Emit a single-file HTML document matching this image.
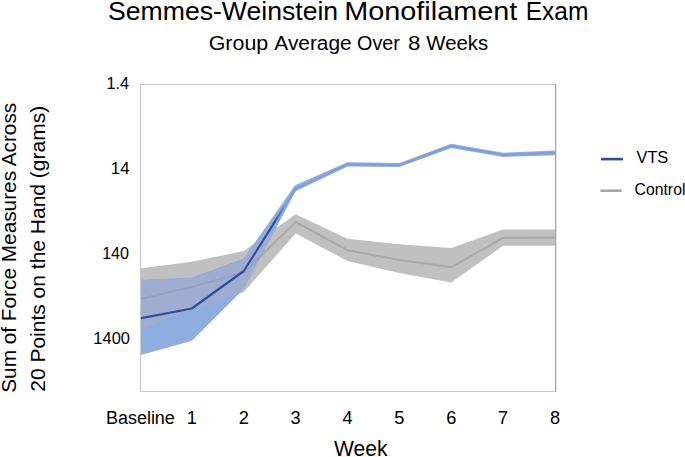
<!DOCTYPE html>
<html><head><meta charset="utf-8"><style>
html,body{margin:0;padding:0;background:#fff;}
body{width:685px;height:457px;overflow:hidden;}
svg{display:block;}
text{font-family:"Liberation Sans", sans-serif;fill:#000;}
</style></head><body>
<svg width="685" height="457" viewBox="0 0 685 457">
<defs>
<linearGradient id="vgrad" gradientUnits="userSpaceOnUse" x1="274" y1="0" x2="286" y2="0"><stop offset="0" stop-color="#2c4f9a"/><stop offset="1" stop-color="#7f9fd8"/></linearGradient>
<clipPath id="plotclip"><rect x="140.5" y="84" width="415" height="308"/></clipPath>
<clipPath id="vclip"><polygon points="140.00,280.30 191.88,278.00 243.75,259.00 295.62,185.00 347.50,162.30 399.38,163.00 451.25,143.80 503.12,152.70 555.00,150.50 555.00,155.30 503.12,157.00 451.25,147.90 399.38,167.00 347.50,166.60 295.62,191.20 243.75,289.00 191.88,340.80 140.00,355.30"/></clipPath>
</defs>
<rect x="0" y="0" width="685" height="457" fill="#fff"/>
<!-- plot frame -->
<line x1="140" y1="84.5" x2="555" y2="84.5" stroke="#c8c8c8" stroke-width="1"/>
<line x1="140" y1="391.5" x2="555" y2="391.5" stroke="#c8c8c8" stroke-width="1"/>
<g clip-path="url(#plotclip)">
<!-- control band -->
<polygon points="140.00,268.50 191.88,261.70 243.75,251.00 295.62,214.20 347.50,238.80 399.38,244.20 451.25,248.00 503.12,229.60 555.00,229.60 555.00,245.80 503.12,245.70 451.25,282.50 399.38,273.00 347.50,261.00 295.62,233.50 243.75,292.00 191.88,310.00 140.00,329.80" fill="#c0c0c0"/>
<polyline points="140.00,299.00 191.88,287.00 243.75,272.50 295.62,222.00 347.50,250.20 399.38,260.00 451.25,267.10 503.12,237.80 555.00,237.40" fill="none" stroke="#a9a9a9" stroke-width="2"/>
<!-- vts band -->
<polygon points="140.00,280.30 191.88,278.00 243.75,259.00 295.62,185.00 347.50,162.30 399.38,163.00 451.25,143.80 503.12,152.70 555.00,150.50 555.00,155.30 503.12,157.00 451.25,147.90 399.38,167.00 347.50,166.60 295.62,191.20 243.75,289.00 191.88,340.80 140.00,355.30" fill="#8fadde"/>
<g clip-path="url(#vclip)">
<polygon points="140.00,268.50 191.88,261.70 243.75,251.00 295.62,214.20 347.50,238.80 399.38,244.20 451.25,248.00 503.12,229.60 555.00,229.60 555.00,245.80 503.12,245.70 451.25,282.50 399.38,273.00 347.50,261.00 295.62,233.50 243.75,292.00 191.88,310.00 140.00,329.80" fill="#9faed0"/>
<polyline points="140.00,299.00 191.88,287.00 243.75,272.50 295.62,222.00 347.50,250.20 399.38,260.00 451.25,267.10 503.12,237.80 555.00,237.40" fill="none" stroke="#979fc5" stroke-width="2"/>
</g>
<polyline points="140.00,280.30 191.88,278.00 243.75,259.00 295.62,185.00" fill="none" stroke="#8fadde" stroke-width="0.9"/>
<polyline points="140.00,318.30 191.88,308.50 243.75,271.00 295.62,188.80 347.50,164.45 399.38,165.00 451.25,145.85 503.12,154.85 555.00,152.90" fill="none" stroke="url(#vgrad)" stroke-width="2.2" stroke-linejoin="round"/>
</g>
<line x1="555.5" y1="84" x2="555.5" y2="392" stroke="#aaaaaa" stroke-width="1"/>
<line x1="140.5" y1="84" x2="140.5" y2="392" stroke="#c8c8c8" stroke-width="1"/>
<line x1="556.5" y1="84" x2="556.5" y2="392" stroke="#e2e2e2" stroke-width="1"/>
<!-- legend -->
<line x1="601" y1="159.1" x2="623" y2="159.1" stroke="#2c4f9a" stroke-width="2.6"/>
<line x1="600.5" y1="190.7" x2="621.7" y2="190.7" stroke="#a6a6a6" stroke-width="2.6"/>
<text x="108.07" y="19.7" font-size="26" text-anchor="start" textLength="230.1" lengthAdjust="spacingAndGlyphs" >Semmes-Weinstein</text><text x="344.25" y="19.7" font-size="26" text-anchor="start" textLength="173.02" lengthAdjust="spacingAndGlyphs" >Monofilament</text><text x="525.79" y="19.7" font-size="26" text-anchor="start" textLength="62.63" lengthAdjust="spacingAndGlyphs" >Exam</text><text x="208.68" y="50.3" font-size="20" text-anchor="start" textLength="59.57" lengthAdjust="spacingAndGlyphs" >Group</text><text x="274.39" y="50.3" font-size="20" text-anchor="start" textLength="77.23" lengthAdjust="spacingAndGlyphs" >Average</text><text x="357.04" y="50.3" font-size="20" text-anchor="start" textLength="42.83" lengthAdjust="spacingAndGlyphs" >Over</text><text x="407.96" y="50.3" font-size="20" text-anchor="start" textLength="12.35" lengthAdjust="spacingAndGlyphs" >8</text><text x="426.31" y="50.3" font-size="20" text-anchor="start" textLength="61.92" lengthAdjust="spacingAndGlyphs" >Weeks</text><text x="106.56" y="89.0" font-size="16.3" text-anchor="start" textLength="22.59" lengthAdjust="spacingAndGlyphs" >1.4</text><text x="110.83" y="174.0" font-size="16.3" text-anchor="start" textLength="18.75" lengthAdjust="spacingAndGlyphs" >14</text><text x="102.14" y="258.6" font-size="16.3" text-anchor="start" textLength="26.9" lengthAdjust="spacingAndGlyphs" >140</text><text x="93.37" y="343.6" font-size="16.3" text-anchor="start" textLength="36.6" lengthAdjust="spacingAndGlyphs" >1400</text><text x="105.92" y="423.5" font-size="18" text-anchor="start" textLength="68.96" lengthAdjust="spacingAndGlyphs" >Baseline</text><text x="191.875" y="423.8" font-size="18.2" text-anchor="middle" >1</text><text x="243.75" y="423.8" font-size="18.2" text-anchor="middle" >2</text><text x="295.625" y="423.8" font-size="18.2" text-anchor="middle" >3</text><text x="347.5" y="423.8" font-size="18.2" text-anchor="middle" >4</text><text x="399.375" y="423.8" font-size="18.2" text-anchor="middle" >5</text><text x="451.25" y="423.8" font-size="18.2" text-anchor="middle" >6</text><text x="503.125" y="423.8" font-size="18.2" text-anchor="middle" >7</text><text x="555.0" y="423.8" font-size="18.2" text-anchor="middle" >8</text><text x="334.1" y="455.8" font-size="22" text-anchor="start" textLength="53.42" lengthAdjust="spacingAndGlyphs" >Week</text><text transform="translate(16.3,392.8) rotate(-90)" font-size="21" textLength="290" lengthAdjust="spacingAndGlyphs">Sum of Force Measures Across</text><text transform="translate(45.2,391.8) rotate(-90)" font-size="21" textLength="286" lengthAdjust="spacingAndGlyphs">20 Points on the Hand (grams)</text><text x="636.54" y="162.8" font-size="16.2" text-anchor="start" textLength="31.7" lengthAdjust="spacingAndGlyphs" >VTS</text><text x="634.5" y="195.3" font-size="15.8" text-anchor="start" >Control</text>
</svg>
</body></html>
